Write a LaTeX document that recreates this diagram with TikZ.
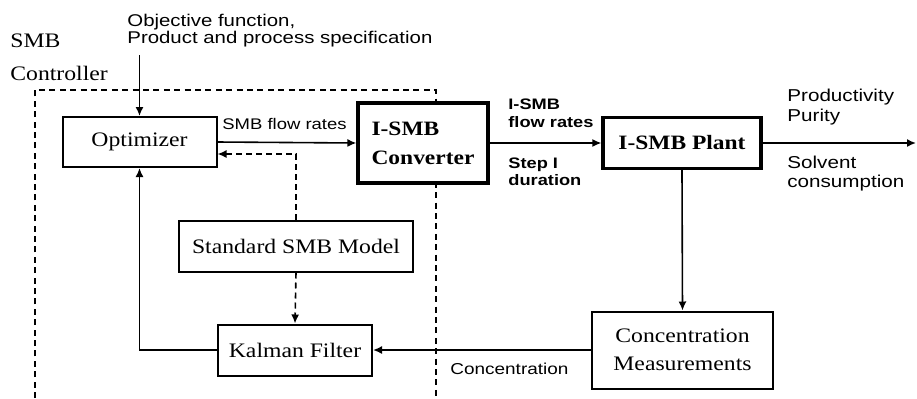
\documentclass[tikz,border=0pt]{standalone}
\usepackage{fontspec}
\setmainfont{Liberation Serif}[FakeStretch=1.15]
\setsansfont{Liberation Sans}[FakeStretch=1.2]
\usepackage{tikz}
\usetikzlibrary{arrows.meta}

\tikzset{
	block/.style={draw, line width=1pt, fill=white, inner sep=0pt, align=center, font=\fontsize{10.3}{14}\selectfont},
	bigblock/.style={block, line width=1.6pt, font=\fontsize{10.2}{14.5}\selectfont\bfseries},
	lbl/.style={inner sep=0pt, anchor=north west, align=left},
	flow/.style={line width=0.8pt, -{Latex[length=4.5pt,width=4pt]}},
	dflow/.style={flow, dash pattern=on 3pt off 2pt}
}

\begin{document}
\begin{tikzpicture}[x=0.5pt, y=-0.5pt]
	\useasboundingbox (0,0) rectangle (917,398);
	% controller frame
	\draw[line width=0.8pt, dash pattern=on 3pt off 2.2pt] (35,398) -- (35,90) -- (436,90) -- (436,398);
	\node[lbl, font=\fontsize{10.3}{12}\selectfont] (smb) at (10,33) {SMB};
	\node[lbl, font=\fontsize{10.3}{12}\selectfont] (ctrl) at (10,66) {Controller};
	% blocks
	\node[block, minimum width=77pt, minimum height=25pt] (opt) at (139.5,142) {Optimizer};
	\node[bigblock, minimum width=65pt, minimum height=40pt, align=left] (conv) at (423,143) {I-SMB\\Converter};
	\node[bigblock, minimum width=79pt, minimum height=25.5pt] (plant) at (682,143) {I-SMB Plant};
	\node[block, minimum width=117pt, minimum height=25.5pt] (model) at (296,246) {Standard SMB Model};
	\node[block, minimum width=77pt, minimum height=25.5pt] (kalman) at (295,350) {Kalman Filter};
	\node[block, minimum width=90.5pt, minimum height=38.5pt] (meas) at (682.5,350) {Concentration\\Measurements};
	% labels
	\node[lbl, font=\sffamily\fontsize{8.5}{8.4}\selectfont] (obj) at (127,14) {Objective function,\\Product and process specification};
	\node[lbl, font=\sffamily\fontsize{7.7}{9}\selectfont] (smbflow) at (222,118) {SMB flow rates};
	\node[lbl, font=\sffamily\bfseries\fontsize{7.6}{9}\selectfont] (isflow) at (508,98) {I-SMB\\flow rates};
	\node[lbl, font=\sffamily\bfseries\fontsize{7.6}{8.5}\selectfont] (step) at (508,157) {Step I\\duration};
	\node[lbl, font=\sffamily\fontsize{8.6}{10}\selectfont] (prod) at (787,89) {Productivity\\Purity};
	\node[lbl, font=\sffamily\fontsize{8.6}{9.5}\selectfont] (solv) at (787,156) {Solvent\\consumption};
	\node[lbl, font=\sffamily\fontsize{7.9}{9}\selectfont] (conc) at (450,363) {Concentration};
	\coordinate (in) at (139.5,55);
	\coordinate (out) at (916,143);
	% connectors
	\draw[flow] (in) -- (opt.north);
	\draw[flow] (opt.east) -- (conv.west);
	\draw[flow] (conv.east) -- (plant.west);
	\draw[flow] (plant.east) -- (out);
	\draw[flow] (plant.south) -- (meas.north);
	\draw[flow] (meas.west) -- (kalman.east);
	\draw[flow] (kalman.west) -| (opt.south);
	\draw[dflow] (model.north) |- ([yshift=-6pt]opt.east);
	\draw[dflow] (model.south) -- (kalman.north);
\end{tikzpicture}
\end{document}
